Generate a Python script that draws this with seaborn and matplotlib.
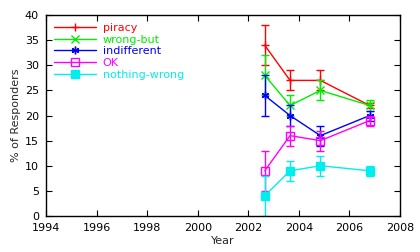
import numpy as np
import pandas as pd
import seaborn as sns
import matplotlib
matplotlib.use("Agg")
import matplotlib.pyplot as plt

# survey years
years = [2002.65, 2003.65, 2004.85, 2006.8]

series = ["piracy", "wrong-but", "indifferent", "OK", "nothing-wrong"]
piracy = [34, 27, 27, 22]
wrong_but = [28, 22, 25, 22]
indifferent = [24, 20, 16, 20]
ok = [9, 16, 15, 19]
nothing_wrong = [4, 9, 10, 9]

piracy_err = [4, 2, 2, 0.5]
wrong_but_err = [4, 2, 2, 1]
indifferent_err = [4, 2, 2, 1]
ok_err = [4, 2, 2, 1]
nothing_wrong_err = [4, 2, 2, 1]

vals = [piracy, wrong_but, indifferent, ok, nothing_wrong]
errs = [piracy_err, wrong_but_err, indifferent_err, ok_err, nothing_wrong_err]
colors = ["#ff0000", "#00ee00", "#0000ff", "#ff00ff", "#00eeee"]
markers = ["+", "x", (6, 2, 0), "s", "s"]

rows = []
for name, v in zip(series, vals):
    for y, p in zip(years, v):
        rows.append({"Year": y, "pct": p, "series": name})
df = pd.DataFrame(rows)

sns.set_style("white")
plt.rcParams['font.family'] = ['DejaVu Sans']

fig = plt.figure(figsize=(4.2, 2.52), dpi=100)
ax = fig.add_axes([0.1095, 0.143, 0.843, 0.797])

handles = []
for i, name in enumerate(series):
    sub = df[df.series == name]
    c = colors[i]
    ax.errorbar(sub.Year, sub.pct, yerr=errs[i], fmt="none", ecolor=c,
                elinewidth=1, capsize=3, capthick=1)
    fc = "none" if name == "OK" else c
    sns.lineplot(data=sub, x="Year", y="pct", color=c, ax=ax, linewidth=1,
                 marker=markers[i], markersize=5.5, markerfacecolor=fc,
                 markeredgecolor=c, markeredgewidth=1, legend=False)
    h, = ax.plot([], [], color=c, marker=markers[i], markerfacecolor=fc,
                 markeredgecolor=c, linewidth=1, markersize=5.5, label=name)
    handles.append(h)

ax.legend(handles=handles, loc="upper left", frameon=False, fontsize=8,
          handlelength=3.8, labelcolor="linecolor", borderaxespad=0.3,
          labelspacing=0.15, handletextpad=0.6)

ax.set_xlim(1994, 2008)
ax.set_ylim(0, 40)
ax.set_xticks(range(1994, 2009, 2))
ax.set_yticks(range(0, 41, 5))
ax.set_xlabel("Year", fontsize=8, labelpad=2)
ax.set_ylabel("% of Responders", fontsize=8, labelpad=3)
ax.tick_params(direction="in", length=4, labelsize=8, top=True, right=True,
               bottom=True, left=True, colors="black")
ax.tick_params(axis="x", labeltop=False, pad=5)
ax.tick_params(axis="y", labelright=False, pad=5)
for s in ax.spines.values():
    s.set_color("black")
    s.set_linewidth(1)

fig.savefig("out.png", dpi=100)
